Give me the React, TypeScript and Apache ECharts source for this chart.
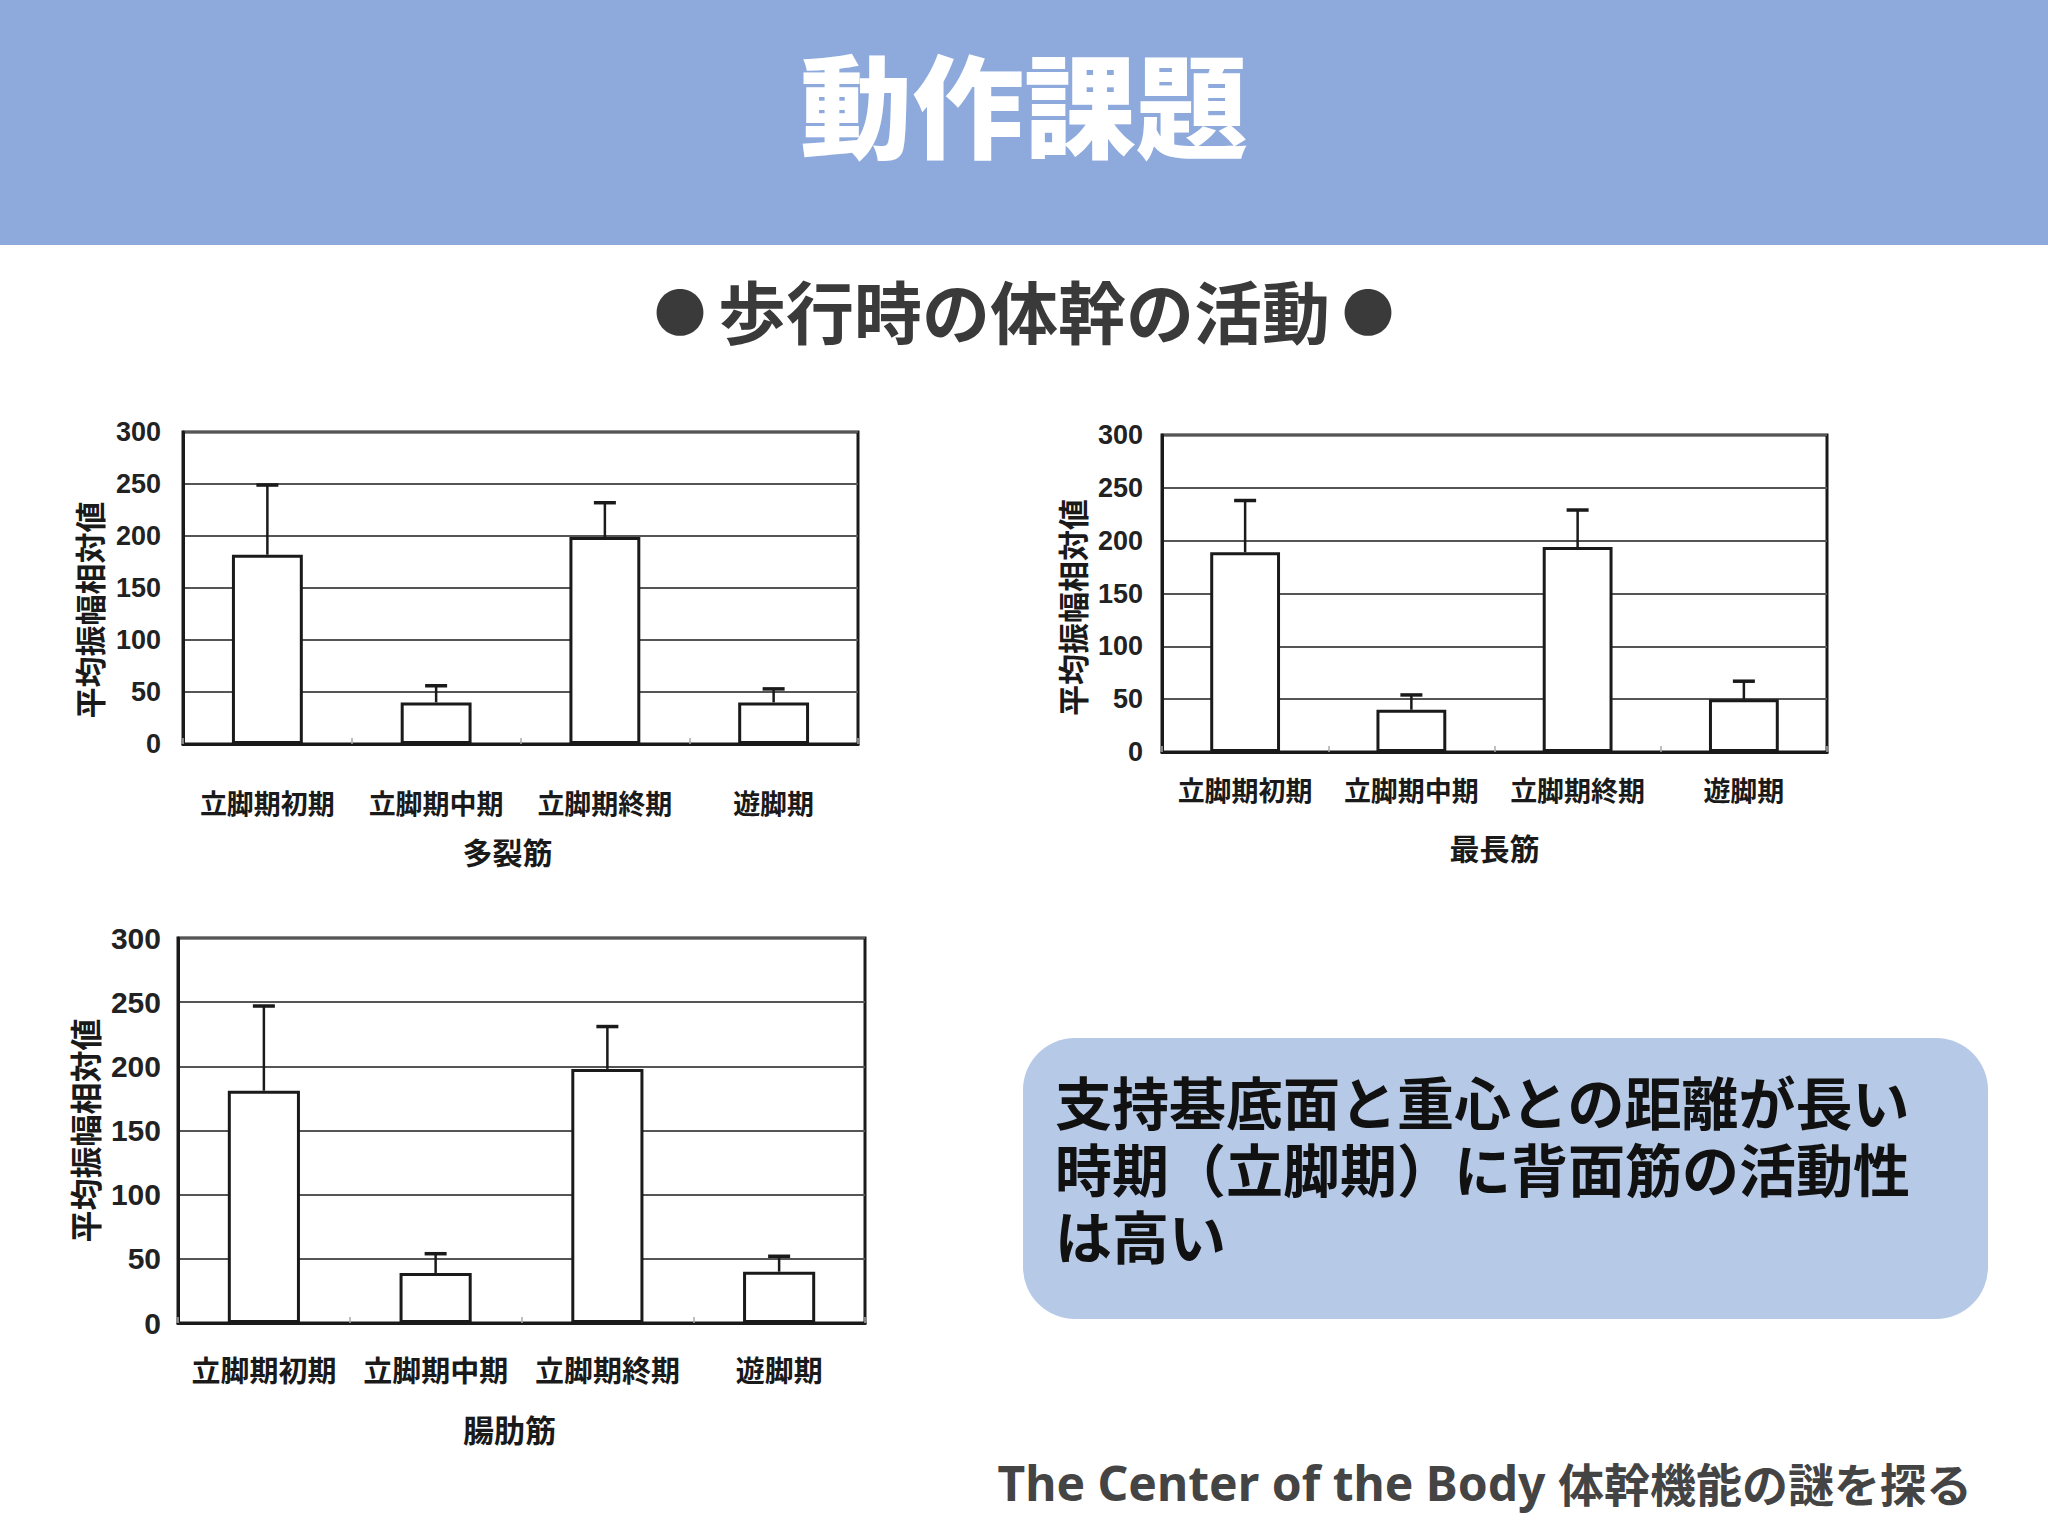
import React, { useEffect, useRef } from "react";
import * as echarts from "echarts";

// ---- data ----
const categories = ["立脚期初期", "立脚期中期", "立脚期終期", "遊脚期"];
const yTickValues = [0, 50, 100, 150, 200, 250, 300];
const yAxisTitle = "平均振幅相対値";

const muscleNames = ["多裂筋", "最長筋", "腸肋筋"];
const multifidusMean = [182, 40, 199, 40];
const multifidusUpper = [249, 56, 232, 53];
const longissimusMean = [189, 40, 194, 50];
const longissimusUpper = [238, 54, 229, 67];
const iliocostalisMean = [181, 39, 198, 40];
const iliocostalisUpper = [247, 54, 231, 52];

const pageTitle = "動作課題";
const subTitleBullet = "●";
const subTitleText = "歩行時の体幹の活動";
const noteLines = [
  "支持基底面と重心との距離が長い",
  "時期（立脚期）に背面筋の活動性",
  "は高い",
];
const footerLatin = "The Center of the Body";
const footerJa = "体幹機能の謎を探る";

const CJK = "'Noto Sans CJK JP', 'Noto Sans', sans-serif";
const NOTE_FONT = "'Liberation Sans', 'Noto Sans CJK JP', sans-serif";
const NUM = "'Liberation Sans', Arial, sans-serif";

const seriesData = [
  { mean: multifidusMean, upper: multifidusUpper },
  { mean: longissimusMean, upper: longissimusUpper },
  { mean: iliocostalisMean, upper: iliocostalisUpper },
];

// layout per chart
const layouts = [
  { left: 183, top: 432, width: 675, height: 312, yFont: 27, yMargin: 22, yNameGap: 79, yNameFont: 31, yNameShift: 44, xFont: 27, xMargin: 45, nameGap: 92, nameFont: 30, nameShift: 26 },
  { left: 1162, top: 435, width: 665, height: 317, yFont: 27, yMargin: 19, yNameGap: 75, yNameFont: 31, yNameShift: 28, xFont: 27, xMargin: 24, nameGap: 80, nameFont: 30, nameShift: 0 },
  { left: 178, top: 938, width: 687, height: 385, yFont: 30, yMargin: 17, yNameGap: 78, yNameFont: 32, yNameShift: 0, xFont: 29, xMargin: 31, nameGap: 90, nameFont: 31, nameShift: 24 },
];

export default function App() {
  const ref = useRef<HTMLDivElement>(null);

  useEffect(() => {
    document.body.style.margin = "0";
    if (!ref.current) return;
    const chart = echarts.init(ref.current, null, { renderer: "svg" });

    const grids: any[] = [];
    const xAxes: any[] = [];
    const yAxes: any[] = [];
    const series: any[] = [];

    layouts.forEach((L, i) => {
      grids.push({
        left: L.left,
        top: L.top,
        width: L.width,
        height: L.height,
        show: true,
        borderColor: "#1a1a1a",
        borderWidth: 3,
        backgroundColor: "#ffffff",
      });
      xAxes.push({
        type: "category",
        gridIndex: i,
        data: categories,
        name: muscleNames[i],
        nameLocation: "middle",
        nameGap: L.nameGap,
        nameTextStyle: {
          fontFamily: CJK,
          fontSize: L.nameFont,
          fontWeight: "bold",
          color: "#1a1a1a",
          padding: [0, L.nameShift, 0, 0],
        },
        axisLine: { show: true, lineStyle: { color: "#1a1a1a", width: 3 } },
        axisTick: { show: true, inside: true, length: 6, lineStyle: { color: "#aaaaaa", width: 1.5 } },
        axisLabel: {
          fontFamily: CJK,
          fontSize: L.xFont,
          fontWeight: "bold",
          color: "#1a1a1a",
          margin: L.xMargin,
          interval: 0,
        },
        splitLine: { show: false },
      });
      yAxes.push({
        type: "value",
        gridIndex: i,
        min: yTickValues[0],
        max: yTickValues[yTickValues.length - 1],
        interval: yTickValues[1] - yTickValues[0],
        name: yAxisTitle,
        nameLocation: "middle",
        nameRotate: 90,
        nameGap: L.yNameGap,
        nameTextStyle: {
          fontFamily: CJK,
          fontSize: L.yNameFont,
          fontWeight: "bold",
          color: "#1a1a1a",
          padding: [0, L.yNameShift, 0, 0],
        },
        axisLine: { show: true, lineStyle: { color: "#1a1a1a", width: 3 } },
        axisTick: { show: false },
        axisLabel: {
          fontFamily: NUM,
          fontSize: L.yFont,
          fontWeight: "bold",
          color: "#222222",
          margin: L.yMargin,
        },
        splitLine: { show: true, lineStyle: { color: "#555555", width: 2 } },
      });
      const d = seriesData[i];
      series.push({
        type: "bar",
        xAxisIndex: i,
        yAxisIndex: i,
        data: d.mean,
        barWidth: "42%",
        itemStyle: { color: "#ffffff", borderColor: "#1a1a1a", borderWidth: 3 },
        z: 3,
      });
      series.push({
        type: "custom",
        xAxisIndex: i,
        yAxisIndex: i,
        data: d.mean.map((m, k) => [k, m, d.upper[k]]),
        encode: { x: 0, y: 2 },
        z: 4,
        renderItem: (_params: any, api: any) => {
          const xv = api.value(0);
          const p0 = api.coord([xv, api.value(1)]);
          const p1 = api.coord([xv, api.value(2)]);
          const half = 11;
          return {
            type: "group",
            children: [
              {
                type: "line",
                shape: { x1: p0[0], y1: p0[1], x2: p1[0], y2: p1[1] },
                style: { stroke: "#1a1a1a", lineWidth: 2.5 },
              },
              {
                type: "line",
                shape: { x1: p1[0] - half, y1: p1[1], x2: p1[0] + half, y2: p1[1] },
                style: { stroke: "#1a1a1a", lineWidth: 3.5 },
              },
            ],
          };
        },
      });
    });

    const noteTexts = noteLines.map((line, k) => ({
      type: "text",
      x: 1055,
      y: 1105 + k * 67,
      style: {
        text: line,
        fontFamily: NOTE_FONT,
        fontSize: 57,
        fontWeight: "bold",
        fill: "#111111",
        textAlign: "left",
        textVerticalAlign: "middle",
      },
      z: 1,
    }));

    const option: any = {
      animation: false,
      backgroundColor: "#ffffff",
      grid: grids,
      xAxis: xAxes,
      yAxis: yAxes,
      series,
      graphic: [
        {
          type: "rect",
          shape: { x: 0, y: 0, width: 2048, height: 245 },
          style: { fill: "#8eaadc" },
          z: 0,
        },
        {
          type: "text",
          x: 1024,
          y: 101,
          style: {
            text: pageTitle,
            fontFamily: CJK,
            fontSize: 112,
            fontWeight: 900,
            fill: "#ffffff",
            textAlign: "center",
            textVerticalAlign: "middle",
          },
          z: 1,
        },
        {
          type: "text",
          x: 1024,
          y: 309,
          style: {
            text: `{b|${subTitleBullet}}{t|${subTitleText}}{b|${subTitleBullet}}`,
            textAlign: "center",
            textVerticalAlign: "middle",
            rich: {
              b: {
                fontFamily: CJK,
                fontSize: 52,
                fontWeight: "bold",
                fill: "#3a3a3a",
                padding: [0, 12, 0, 12],
              },
              t: {
                fontFamily: CJK,
                fontSize: 68,
                fontWeight: "bold",
                fill: "#3a3a3a",
              },
            },
          },
          z: 1,
        },
        {
          type: "rect",
          shape: { x: 1023, y: 1038, width: 965, height: 281, r: 52 },
          style: { fill: "#b6c9e6" },
          z: 0,
        },
        ...noteTexts,
        {
          type: "text",
          x: 1972,
          y: 1482,
          style: {
            text: `{a|${footerLatin} }{c|${footerJa}}`,
            textAlign: "right",
            textVerticalAlign: "middle",
            rich: {
              a: {
                fontFamily: "'Noto Sans', 'Open Sans', sans-serif",
                fontSize: 48,
                fontWeight: "bold",
                fill: "#444444",
              },
              c: {
                fontFamily: CJK,
                fontSize: 46,
                fontWeight: "bold",
                fill: "#444444",
              },
            },
          },
          z: 1,
        },
      ],
    };

    chart.setOption(option);
    return () => chart.dispose();
  }, []);

  return (
    <div
      ref={ref}
      style={{ position: "absolute", left: 0, top: 0, width: 2048, height: 1536, background: "#ffffff" }}
    />
  );
}
